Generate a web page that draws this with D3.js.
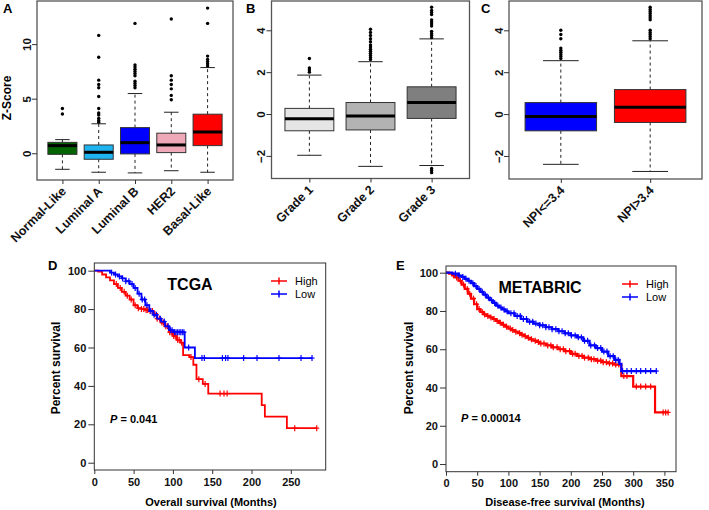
<!DOCTYPE html>
<html><head><meta charset="utf-8">
<script src="https://cdnjs.cloudflare.com/ajax/libs/d3/7.8.5/d3.min.js"></script>
<style>
body{margin:0;background:#fff}
text{font-family:"Liberation Sans",Arial,sans-serif}
</style>
</head><body><script>
// ---------- Panel A: PAM50 subtypes ----------
const subtypes = ["Normal-Like","Luminal A","Luminal B","HER2","Basal-Like"];
const subtypeQ1 = [-0.1,-0.55,-0.06,0.06,0.7];
const subtypeMedian = [0.7,0.09,0.97,0.76,1.95];
const subtypeQ3 = [1.0,0.76,2.35,1.84,3.58];
const subtypeLow = [-1.47,-1.74,-1.8,-1.6,-1.74];
const subtypeHigh = [1.25,2.7,5.47,3.76,7.85];
const subtypeOutliers = [
  [3.6,4.1],
  [2.85,3.0,3.2,3.5,3.7,4.1,5.2,6.0,6.3,6.7,8.8,10.8],
  [6.0,6.2,6.4,6.6,7.1,7.3,7.5,7.7,7.9,8.1,11.9],
  [4.9,5.3,5.9,6.3,6.7,7.1,12.3],
  [8.0,8.2,8.4,8.6,8.9,11.9,13.3]
];
const subtypeTicks = [0,5,10];

// ---------- Panel B: Grade ----------
const grades = ["Grade 1","Grade 2","Grade 3"];
const gradeQ1 = [-0.8,-0.76,-0.21];
const gradeMedian = [-0.22,-0.1,0.55];
const gradeQ3 = [0.27,0.55,1.3];
const gradeLow = [-1.97,-2.5,-2.46];
const gradeHigh = [1.86,2.5,3.59];
const gradeOutliers = [
  [2.0,2.1,2.2,2.65],
  [2.6,2.7,2.8,2.9,3.0,3.1,3.2,3.3,3.45,3.6,3.75,3.9,4.05],
  [3.65,3.75,3.85,3.95,4.2,4.3,4.4,4.5,4.75,4.85,4.95,5.1,-2.6,-2.7,-2.8]
];
const scoreTicks = [-2,0,2,4];

// ---------- Panel C: NPI ----------
const npiGroups = ["NPI<=3.4","NPI>3.4"];
const npiQ1 = [-0.8,-0.4];
const npiMedian = [-0.11,0.33];
const npiQ3 = [0.55,1.17];
const npiLow = [-2.4,-2.74];
const npiHigh = [2.55,3.5];
const npiOutliers = [
  [2.65,2.75,2.85,2.95,3.05,3.15,3.6,3.8,4.0],
  [3.6,3.7,3.8,3.9,4.0,4.5,4.6,4.7,4.8,4.9,5.0,5.1]
];

// ---------- Panel D: TCGA overall survival ----------
const tcgaHighTimes = [0,5,10,15,20,25,30,35,40,45,50,55,60,65,70,75,80,85,90,95,100,105,110,113,121,126,130,138,145,213,217,245];
const tcgaHighSurv  = [100,99.5,98,96.5,95,93,91,89,87,85,82,80.5,80,79.5,79,77.5,75,73,71,68,66,64,62.5,56,55,51,43.5,41,36,30,24,18];
const tcgaHighEnd = 283;
const tcgaHighCensor = [28,33,38,42,47,52,56,60,63,66,68,71,74,77,80,83,86,88,91,93,96,98,101,103,106,108,111,123,133,141,160,165,169,255,283];
const tcgaLowTimes = [0,10,20,25,30,35,40,45,50,55,60,65,70,75,80,85,90,95,100,115,128];
const tcgaLowSurv  = [100,100,99,98,97,96,94.5,93,91,88,85,82,79,77,75,73.5,71,69,68,60,54.5];
const tcgaLowEnd = 277;
const tcgaLowCensor = [22,27,32,36,40,44,48,52,57,61,64,67,72,76,79,84,89,94,97,99,102,104,106,108,110,112,114,120,137,140,163,167,170,190,207,235,263,277];

// ---------- Panel E: METABRIC disease-free survival ----------
const metaHighTimes = [0,5,10,15,20,25,30,35,40,45,50,55,60,65,70,75,80,85,90,95,100,105,110,115,120,125,130,135,140,145,150,160,170,180,190,200,210,220,230,240,250,260,270,281,300,335];
const metaHighSurv  = [100,99.5,98.6,97.5,95.8,93.8,91.5,89,86.5,83.5,81,79.5,78.2,77.4,76.6,75.8,74.8,73.8,72.8,71.8,70.8,70,69.2,68.4,67.6,66.8,66,65.2,64.5,63.8,63,62,61,60,59,57.6,56.5,55.6,54.8,54,53.2,52.6,52,46,40.5,27];
const metaHighEnd = 356;
const metaHighCensor = [12,17,23,28,34,38,44,49,53,58,62,67,72,77,82,87,92,97,103,107,112,118,122,127,132,137,143,148,152,157,163,168,172,178,183,188,192,198,203,207,213,218,222,228,233,237,243,248,252,257,262,267,272,277,285,290,305,312,320,328,348,352,356];
const metaLowTimes = [0,10,20,25,30,35,40,45,50,55,60,65,70,75,80,85,90,95,100,110,120,130,140,150,160,170,180,190,200,210,220,230,240,250,260,270,278,281];
const metaLowSurv  = [100,99.5,98.5,97.8,96.8,95.8,94.5,93,91.5,90,88.5,87,85.6,84.2,82.8,81.8,80.8,79.8,78.8,77.4,75.8,74.4,73.4,72.5,71.5,70.5,69.4,68.3,67.2,66.2,64.4,62,60.6,58.8,56.4,54.4,52.4,48.6];
const metaLowEnd = 337;
const metaLowCensor = [15,21,27,32,37,43,48,53,58,63,68,73,78,83,88,93,98,104,109,114,119,124,129,134,139,144,150,155,160,165,170,176,181,186,191,196,201,207,212,217,222,227,232,238,243,248,253,258,263,268,272,276,283,290,297,305,312,320,328,337];

const kmTicksX_D = [0,50,100,150,200,250];
const kmTicksX_E = [0,50,100,150,200,250,300,350];
const kmTicksY = [0,20,40,60,80,100];

const svg = d3.select("body").append("svg").attr("width",709).attr("height",510);

function boxPanel(c){
  const n = c.cats.length;
  const g = svg.append("g");
  const x = d3.scaleLinear().domain([0.5-0.04*n, n+0.5+0.04*n]).range([c.L,c.R]);
  const y = d3.scaleLinear().domain(c.yDomain).range([c.B,c.T]);
  const hw = x(1.4)-x(1);
  const idx = d3.range(n);
  // whiskers
  idx.forEach(i=>{
    const cx = x(i+1);
    g.append("line").attr("x1",cx).attr("x2",cx).attr("y1",y(c.q3[i])).attr("y2",y(c.hi[i]))
      .attr("stroke","#222").attr("stroke-dasharray","3,3");
    g.append("line").attr("x1",cx).attr("x2",cx).attr("y1",y(c.q1[i])).attr("y2",y(c.lo[i]))
      .attr("stroke","#222").attr("stroke-dasharray","3,3");
    [c.hi[i],c.lo[i]].forEach(v=>g.append("line").attr("x1",cx-hw/2).attr("x2",cx+hw/2)
      .attr("y1",y(v)).attr("y2",y(v)).attr("stroke","#222"));
    g.append("rect").attr("x",cx-hw).attr("width",2*hw).attr("y",y(c.q3[i]))
      .attr("height",y(c.q1[i])-y(c.q3[i])).attr("fill",c.fills[i]).attr("stroke","#333").attr("stroke-width",1);
    g.append("line").attr("x1",cx-hw).attr("x2",cx+hw).attr("y1",y(c.med[i])).attr("y2",y(c.med[i]))
      .attr("stroke","#000").attr("stroke-width",3);
    g.selectAll(null).data(c.outl[i]).enter().append("circle")
      .attr("cx",cx).attr("cy",d=>y(d)).attr("r",1.7).attr("fill","#000");
  });
  g.append("rect").attr("x",c.L).attr("y",c.T).attr("width",c.R-c.L).attr("height",c.B-c.T)
    .attr("fill","none").attr("stroke","#555").attr("stroke-width",1.3);
  const ya = g.append("g").attr("transform",`translate(${c.L},0)`)
    .call(d3.axisLeft(y).tickValues(c.yTicks).tickSize(5).tickSizeOuter(0));
  ya.select(".domain").remove();
  ya.selectAll("line").attr("stroke","#333");
  ya.selectAll("text").attr("x",0).attr("dy",0).attr("transform","translate(-6.5,0) rotate(-90)")
    .attr("text-anchor","middle").attr("font-size",11.5).attr("font-weight","bold").attr("fill","#111")
    .style("font-family","'Liberation Sans',Arial,sans-serif");
  const xa = g.append("g").attr("transform",`translate(0,${c.B})`)
    .call(d3.axisBottom(x).tickValues(d3.range(1,n+1)).tickFormat((d,i)=>c.cats[i]).tickSize(4).tickSizeOuter(0));
  xa.select(".domain").remove();
  xa.selectAll("line").attr("stroke","#333");
  xa.selectAll("text").attr("x",0).attr("y",0).attr("dy",0).attr("transform","translate(4,12) rotate(-45)")
    .attr("text-anchor","end").attr("font-size",12.5).attr("font-weight","bold").attr("fill","#111")
    .style("font-family","'Liberation Sans',Arial,sans-serif");
  svg.append("text").attr("x",c.panelX).attr("y",13).text(c.panel)
    .attr("font-size",13).attr("font-weight","bold");
  if(c.ytitle){
    svg.append("text").attr("transform",`translate(11,${c.ytitleY}) rotate(-90)`).attr("text-anchor","middle")
      .attr("font-size",12).attr("font-weight","bold").text(c.ytitle);
  }
}

boxPanel({L:37,R:233,T:1,B:180,yDomain:[-2.45,13.95],yTicks:subtypeTicks,cats:subtypes,
  q1:subtypeQ1,med:subtypeMedian,q3:subtypeQ3,lo:subtypeLow,hi:subtypeHigh,outl:subtypeOutliers,
  fills:["#006400","#1EB4F0","#0000FF","#EFA8B8","#FF0000"],panel:"A",panelX:3,ytitle:"Z-Score",ytitleY:98});
boxPanel({L:271.5,R:469.5,T:1,B:178.5,yDomain:[-3.08,5.4],yTicks:scoreTicks,cats:grades,
  q1:gradeQ1,med:gradeMedian,q3:gradeQ3,lo:gradeLow,hi:gradeHigh,outl:gradeOutliers,
  fills:["#E5E5E5","#B3B3B3","#7F7F7F"],panel:"B",panelX:246});
boxPanel({L:509,R:702,T:1,B:179,yDomain:[-3.1,5.4],yTicks:scoreTicks,cats:npiGroups,
  q1:npiQ1,med:npiMedian,q3:npiQ3,lo:npiLow,hi:npiHigh,outl:npiOutliers,
  fills:["#0000FF","#FF0000"],panel:"C",panelX:481});

function stepValue(times,surv,t){
  let v = surv[0];
  for(let i=0;i<times.length;i++){ if(times[i]<=t) v = surv[i]; }
  return v;
}

function kmPanel(c){
  const g = svg.append("g");
  const x = d3.scaleLinear().domain(c.xDomain).range([c.L,c.R]);
  const y = d3.scaleLinear().domain(c.yDomain).range([c.B,c.T]);
  const line = d3.line().x(d=>x(d[0])).y(d=>y(d[1])).curve(d3.curveStepAfter);
  c.curves.forEach(cv=>{
    const pts = cv.times.map((t,i)=>[t,cv.surv[i]]);
    pts.push([cv.end, cv.surv[cv.surv.length-1]]);
    g.append("path").attr("d",line(pts)).attr("fill","none").attr("stroke",cv.color)
      .attr("stroke-width",c.sw);
    cv.censor.forEach(t=>{
      const cx = x(t), cy = y(stepValue(cv.times,cv.surv,t));
      g.append("line").attr("x1",cx).attr("x2",cx).attr("y1",cy-3).attr("y2",cy+3).attr("stroke",cv.color).attr("stroke-width",1.2);
      g.append("line").attr("x1",cx-2.5).attr("x2",cx+2.5).attr("y1",cy).attr("y2",cy).attr("stroke",cv.color).attr("stroke-width",1.2);
    });
  });
  g.append("rect").attr("x",c.L).attr("y",c.T).attr("width",c.R-c.L).attr("height",c.B-c.T)
    .attr("fill","none").attr("stroke","#333").attr("stroke-width",1);
  const ya = g.append("g").attr("transform",`translate(${c.L},0)`)
    .call(d3.axisLeft(y).tickValues(kmTicksY).tickSize(6).tickPadding(2).tickSizeOuter(0));
  ya.select(".domain").remove();
  ya.selectAll("line").attr("stroke","#333");
  ya.selectAll("text").attr("font-size",11).attr("font-weight","bold").attr("fill","#111")
    .style("font-family","'Liberation Sans',Arial,sans-serif");
  const xa = g.append("g").attr("transform",`translate(0,${c.B})`)
    .call(d3.axisBottom(x).tickValues(c.xTicks).tickSize(4).tickPadding(4).tickSizeOuter(0));
  xa.select(".domain").remove();
  xa.selectAll("line").attr("stroke","#333");
  xa.selectAll("text").attr("font-size",11).attr("font-weight","bold").attr("fill","#111")
    .style("font-family","'Liberation Sans',Arial,sans-serif");
  svg.append("text").attr("transform",`translate(${c.ytX},368) rotate(-90)`).attr("text-anchor","middle")
    .attr("font-size",12).attr("font-weight","bold").text("Percent survival");
  svg.append("text").attr("x",c.xtX).attr("y",506).attr("text-anchor","middle")
    .attr("font-size",11).attr("font-weight","bold").text(c.xtitle);
  svg.append("text").attr("x",c.panelX).attr("y",270).attr("font-size",13).attr("font-weight","bold").text(c.panel);
  svg.append("text").attr("x",c.titleX).attr("y",c.titleY).attr("text-anchor","middle")
    .attr("font-size",16).attr("font-weight","bold").text(c.title);
  const p = svg.append("text").attr("x",c.pX).attr("y",c.pY).attr("font-size",11).attr("font-weight","bold");
  p.append("tspan").attr("font-style","italic").text("P");
  p.append("tspan").text(" = "+c.pval);
  c.curves.forEach((cv,i)=>{
    const ly = c.legY + i*13;
    svg.append("line").attr("x1",c.legX-8).attr("x2",c.legX+8).attr("y1",ly-4).attr("y2",ly-4)
      .attr("stroke",cv.color).attr("stroke-width",1.5);
    svg.append("line").attr("x1",c.legX).attr("x2",c.legX).attr("y1",ly-7.5).attr("y2",ly-0.5)
      .attr("stroke",cv.color).attr("stroke-width",1.5);
    svg.append("text").attr("x",c.legX+16).attr("y",ly).attr("font-size",11).text(cv.name);
  });
}

kmPanel({L:94.3,R:325.7,T:263,B:470,xDomain:[0,294.4],yDomain:[-3.8,104],xTicks:kmTicksX_D,sw:1.8,
  curves:[
    {name:"High",color:"#FF0000",times:tcgaHighTimes,surv:tcgaHighSurv,end:tcgaHighEnd,censor:tcgaHighCensor},
    {name:"Low",color:"#0000FF",times:tcgaLowTimes,surv:tcgaLowSurv,end:tcgaLowEnd,censor:tcgaLowCensor}
  ],
  title:"TCGA",titleX:190,titleY:290,pX:110,pY:423,pval:"0.041",xtitle:"Overall survival (Months)",xtX:211,
  ytX:60,panel:"D",panelX:48,legX:279,legY:285});

kmPanel({L:446,R:676,T:266,B:471.7,xDomain:[0,368.6],yDomain:[-4.0,103.5],xTicks:kmTicksX_E,sw:2.2,
  curves:[
    {name:"High",color:"#FF0000",times:metaHighTimes,surv:metaHighSurv,end:metaHighEnd,censor:metaHighCensor},
    {name:"Low",color:"#0000FF",times:metaLowTimes,surv:metaLowSurv,end:metaLowEnd,censor:metaLowCensor}
  ],
  title:"METABRIC",titleX:540,titleY:293,pX:461,pY:422,pval:"0.00014",xtitle:"Disease-free survival (Months)",xtX:565,
  ytX:413,panel:"E",panelX:396,legX:630,legY:288});
</script></body></html>
